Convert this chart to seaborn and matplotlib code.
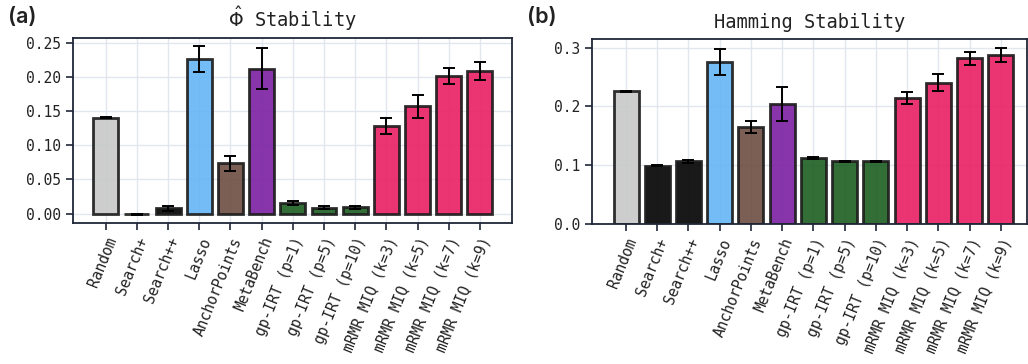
import matplotlib
matplotlib.use("Agg")
import matplotlib.pyplot as plt
from matplotlib.ticker import FormatStrFormatter, MultipleLocator
import seaborn as sns
import pandas as pd
import numpy as np

methods = ["Random", "Search+", "Search++", "Lasso", "AnchorPoints", "MetaBench",
           "gp-IRT (p=1)", "gp-IRT (p=5)", "gp-IRT (p=10)",
           "mRMR MIQ (k=3)", "mRMR MIQ (k=5)", "mRMR MIQ (k=7)", "mRMR MIQ (k=9)"]

phi_mean = [0.1405, -0.001, 0.0075, 0.226, 0.0735, 0.212, 0.0155, 0.0085, 0.0090,
            0.128, 0.157, 0.202, 0.209]
phi_err = [0.001, 0.0005, 0.0033, 0.019, 0.0105, 0.030, 0.0025, 0.0022, 0.0020,
           0.012, 0.0165, 0.012, 0.0128]

ham_mean = [0.2255, 0.0995, 0.1065, 0.2755, 0.165, 0.2035, 0.1127, 0.1065, 0.1065,
            0.2145, 0.2405, 0.2817, 0.288]
ham_err = [0.0008, 0.0003, 0.0026, 0.022, 0.0097, 0.029, 0.0015, 0.0013, 0.0013,
           0.0102, 0.0148, 0.0103, 0.0118]

colors = ["#C8C8C8", "#000000", "#000000", "#64B5F6", "#6D4C41", "#7B1FA2",
          "#1B5E20", "#1B5E20", "#1B5E20",
          "#E91E63", "#E91E63", "#E91E63", "#E91E63"]

sns.set_theme(style="white")
mono = ["DejaVu Sans Mono"]
plt.rcParams["font.family"] = mono

spine_c = "#1f2637"
grid_c = "#e2e6ee"

fig = plt.figure(figsize=(10.28, 3.64), dpi=100)
ax1 = fig.add_axes([73 / 1028, 1 - 223 / 364, 439 / 1028, 185 / 364])
ax2 = fig.add_axes([592 / 1028, 1 - 224 / 364, 435 / 1028, 185 / 364])


def draw(ax, mean, err, title, fmt, step, xlim):
    df = pd.DataFrame({"method": methods, "value": mean})
    sns.barplot(data=df, x="method", y="value", hue="method", palette=colors,
                saturation=1, legend=False, ax=ax, width=0.8, alpha=0.9,
                edgecolor="#1a1a1a", linewidth=2.0, errorbar=None, zorder=2)
    xs = [p.get_x() + p.get_width() / 2 for p in ax.patches]
    ax.errorbar(xs, mean, yerr=err, fmt="none", ecolor="black", elinewidth=1.4,
                capsize=4, capthick=1.4, zorder=3)
    ax.set_xlim(*xlim)
    ax.set_xlabel("")
    ax.set_ylabel("")
    ax.set_title(title, fontsize=13.5, pad=8, color="#222222", family=mono)
    ax.yaxis.set_major_locator(MultipleLocator(step))
    ax.yaxis.set_major_formatter(FormatStrFormatter(fmt))
    ax.grid(True, color=grid_c, linewidth=1.0, zorder=0)
    ax.set_axisbelow(True)
    for s in ax.spines.values():
        s.set_color(spine_c)
        s.set_linewidth(1.3)
    ax.tick_params(axis="both", which="major", direction="out", length=5, width=1.2,
                   color=spine_c, labelsize=10.5, labelcolor="#222222",
                   bottom=True, left=True)
    ax.set_xticks(range(len(methods)))
    ax.set_xticklabels(methods, rotation=68, ha="right", rotation_mode="anchor")


draw(ax1, phi_mean, phi_err, r"$\hat{\Phi}$ Stability", "%.2f", 0.05, (-1.05, 13.03))
draw(ax2, ham_mean, ham_err, "Hamming Stability", "%.1f", 0.1, (-1.09, 12.84))
ax2.set_ylim(0, None)

fig.text(8 / 1028, 1 - 7 / 364, "(a)", fontsize=15.5, fontweight="semibold",
         family=["Inter", "DejaVu Sans"], va="top", ha="left", color="#222222")
fig.text(527 / 1028, 1 - 7 / 364, "(b)", fontsize=15.5, fontweight="semibold",
         family=["Inter", "DejaVu Sans"], va="top", ha="left", color="#222222")

fig.savefig("out.png", dpi=100)
